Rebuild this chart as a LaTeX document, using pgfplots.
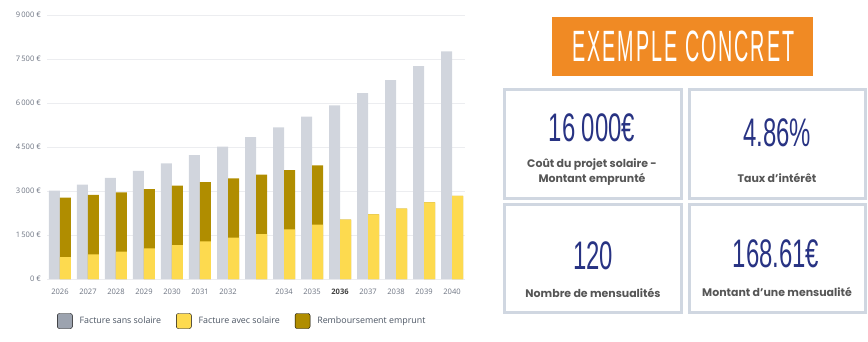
\documentclass[border=0pt]{standalone}
\usepackage{fontspec}
\setmainfont{Open Sans}
\newfontfamily\popfont{Poppins}
\newfontfamily\titlefont[FakeStretch=0.45, LetterSpace=4.5]{Liberation Sans}
\newfontfamily\numfont[FakeStretch=0.6]{Liberation Sans}
\usepackage{pgfplots}
\pgfplotsset{compat=1.18}
\usepackage{pgfplotstable}

\definecolor{barGray}{HTML}{D1D5DD}
\definecolor{barYellow}{HTML}{FDDA4F}
\definecolor{barBrown}{HTML}{B08D00}
\definecolor{legGray}{HTML}{9CA3AF}
\definecolor{tickGray}{HTML}{6B7280}
\definecolor{legText}{HTML}{4B5563}
\definecolor{gridGray}{HTML}{ECEDF0}
\definecolor{orangeT}{HTML}{F08A24}
\definecolor{navy}{HTML}{283383}
\definecolor{boxBorder}{HTML}{D0D7E1}
\definecolor{labGray}{HTML}{565656}

\pgfplotstableread{
i year sans avec remb
0 2026 3010 750 2023
1 2027 3221 841 2023
2 2028 3446 932 2023
3 2029 3687 1045 2023
4 2030 3946 1159 2023
5 2031 4222 1284 2023
6 2032 4517 1409 2023
7 2033 4834 1534 2023
8 2034 5172 1693 2023
9 2035 5534 1852 2023
10 2036 5922 2023 0
11 2037 6336 2205 0
12 2038 6780 2398 0
13 2039 7254 2614 0
14 2040 7762 2830 0
}\datatable

\begin{document}
\begin{tikzpicture}
\useasboundingbox (0bp,0bp) rectangle (868bp,-342bp);
\begin{axis}[
  at={(47bp,-279bp)}, anchor=south west,
  scale only axis, width=418bp, height=264bp,
  xmin=-0.464, xmax=14.464, ymin=0, ymax=9000,
  axis line style={draw=none},
  major tick length=0pt,
  ymajorgrids, grid style={gridGray, line width=0.7bp},
  ytick={0,1500,3000,4500,6000,7500,9000},
  yticklabels={0 €, 1\,500 €, 3\,000 €, 4\,500 €, 6\,000 €, 7\,500 €, 9\,000 €},
  xtick={0,...,14},
  xticklabels={2026,2027,2028,2029,2030,2031,2032,,2034,2035,{\bfseries\color{black!75}2036},2037,2038,2039,2040},
  tick label style={font=\fontsize{7.6}{9}\selectfont, text=tickGray},
  yticklabel style={anchor=east, inner sep=0pt, xshift=-6bp},
  xticklabel style={anchor=center, inner sep=0pt, yshift=-13bp},
  clip=false,
  legend columns=3,
  legend image code/.code={\fill[#1, rounded corners=2bp] (0bp,-7.5bp) rectangle (15bp,7.5bp);},
  legend style={at={(0.0239,-0.1591)}, anchor=west, draw=none, fill=none, inner sep=0pt,
    font=\fontsize{8.9}{10}\selectfont, text=legText,
    nodes={inner sep=0pt, anchor=west},
    /tikz/every odd column/.append style={column sep=7bp},
    /tikz/every even column/.append style={column sep=15bp}},
]
\addplot[ybar, bar width=11bp, bar shift=-5.5bp, fill=barGray, draw=none, forget plot]
  table[x=i, y=sans] {\datatable};
\addplot[ybar, bar width=11bp, bar shift=5.5bp, fill=barBrown, draw=none, forget plot]
  table[x=i, y expr=\thisrow{avec}+\thisrow{remb}] {\datatable};
\addplot[ybar, bar width=11bp, bar shift=5.5bp, fill=barYellow, draw=none, forget plot]
  table[x=i, y=avec] {\datatable};
\addlegendimage{fill=legGray}
\addlegendentry{Facture sans solaire}
\addlegendimage{fill=barYellow}
\addlegendentry{Facture avec solaire}
\addlegendimage{fill=barBrown}
\addlegendentry{Remboursement emprunt}
\end{axis}

\begin{scope}[x=1bp, y=-1bp]
\fill[orangeT] (552,17) rectangle (813,76);
\node[text=white, font=\titlefont\fontsize{44}{44}\selectfont, inner sep=0pt] at (683.5,46.5) {EXEMPLE CONCRET};
\foreach \x/\y/\X/\Y in {503/88/682.7/199.5, 688/88/866.7/199.5, 503/203.3/682.7/314, 688/203.3/866.7/314}{
  \draw[boxBorder, line width=2.7bp] (\x+1.35,\y+1.35) rectangle (\X-1.35,\Y-1.35);
}
\begin{scope}[every node/.style={inner sep=0pt}]
\node[text=navy, font=\numfont\fontsize{40}{40}\selectfont] at (592,127.5) {16 000€};
\node[text=navy, font=\numfont\fontsize{40}{40}\selectfont] at (777,133) {4.86\%};
\node[text=navy, font=\numfont\fontsize{40}{40}\selectfont] at (593,256) {120};
\node[text=navy, font=\numfont\fontsize{40}{40}\selectfont] at (776,254) {168.61€};
\node[text=labGray, font=\popfont\bfseries\fontsize{11}{12}\selectfont] at (592,164.3) {Coût du projet solaire -};
\node[text=labGray, font=\popfont\bfseries\fontsize{11}{12}\selectfont] at (592,179) {Montant emprunté};
\node[text=labGray, font=\popfont\bfseries\fontsize{11}{12}\selectfont] at (777,177.7) {Taux d’intérêt};
\node[text=labGray, font=\popfont\bfseries\fontsize{11}{12}\selectfont] at (593,292.7) {Nombre de mensualités};
\node[text=labGray, font=\popfont\bfseries\fontsize{11}{12}\selectfont] at (777,291.7) {Montant d’une mensualité};
\end{scope}
\end{scope}
\end{tikzpicture}
\end{document}
